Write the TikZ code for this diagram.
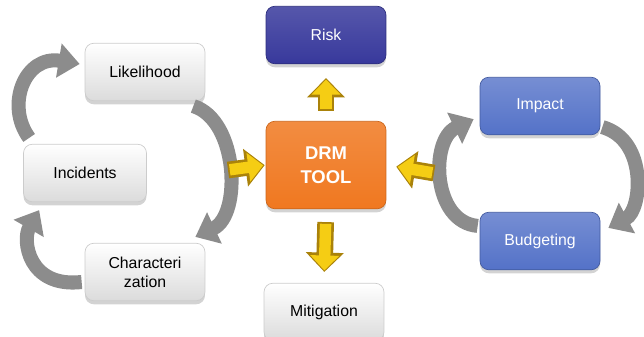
\documentclass[tikz,border=0pt]{standalone}
\usepackage{fontspec}
\setmainfont{Liberation Sans}
\usepackage{tikz}
\usetikzlibrary{positioning,arrows.meta,shadows}
\definecolor{drmorange}{RGB}{240,120,32}
\definecolor{riskblue}{RGB}{56,57,156}
\definecolor{stepblue}{RGB}{84,114,200}
\definecolor{cyclegray}{RGB}{140,140,140}
\definecolor{arrowgold}{RGB}{245,205,20}
\definecolor{golddark}{RGB}{170,130,10}

\tikzset{
  box/.style={rounded corners=5pt, minimum width=2.4cm, minimum height=1.15cm,
    align=center, font=\fontsize{9}{11}\selectfont,
    drop shadow={shadow xshift=0pt, shadow yshift=-2pt, opacity=0.35}},
  graybox/.style={box, draw=gray!40, top color=white, bottom color=gray!28, text=black},
  bluebox/.style={box, draw=stepblue!80!black, top color=stepblue!80!white, bottom color=stepblue, text=white},
  riskbox/.style={box, draw=riskblue!80!black, top color=riskblue!85!white, bottom color=riskblue, text=white},
  toolbox/.style={box, minimum height=1.75cm, draw=drmorange!85!black, top color=drmorange!85!white,
    bottom color=drmorange, text=white, font=\fontsize{10.5}{13.5}\selectfont\bfseries},
  cyclearrow/.style={line width=8pt, cyclegray, -{Triangle[width=19pt,length=12pt]}},
  yback/.style={line width=9.5pt, golddark, -{Triangle[width=21pt,length=11pt]}},
  yfront/.style={line width=6.5pt, arrowgold, -{Triangle[width=16pt,length=8.5pt]}}
}

\begin{document}
\begin{tikzpicture}[x=0.02cm,y=-0.02cm]
\useasboundingbox (0,0) rectangle (644,336);

% Left cycle
\node[graybox] (lik) at (145,72) {Likelihood};
\node[graybox, minimum width=2.46cm] (inc) at (85,173) {Incidents};
\node[graybox] (char) at (145,272) {Characteri\\zation};

% Centre
\node[riskbox] (risk) at (326,35) {Risk};
\node[toolbox] (drm) at (326,165) {DRM\\TOOL};
\node[graybox] (mit) at (324,312) {Mitigation};

% Right cycle
\node[bluebox] (imp) at (540,106) {Impact};
\node[bluebox] (bud) at (540,241) {Budgeting};

\coordinate (lin) at (228,170);
\coordinate (rin) at (434,173);

% Gray cycle arrows
\draw[cyclearrow] ([shift={(6,-6)}]inc.north west) .. controls (5,105) and (25,55) .. ([shift={(-5,-8)}]lik.west);
\draw[cyclearrow] ([shift={(-12,5)}]lik.south east) .. controls (238,120) and (242,215) .. ([shift={(-10,-6)}]char.north east);
\draw[cyclearrow] ([shift={(-3,10)}]char.west) .. controls (28,288) and (22,240) .. ([shift={(16,8)}]inc.south west);
\draw[cyclearrow] ([shift={(2,-8)}]imp.south east) .. controls (648,140) and (642,210) .. ([shift={(8,16)}]bud.north east);
\draw[cyclearrow] ([shift={(-2,14)}]bud.north west) .. controls (432,222) and (430,140) .. ([shift={(-6,-16)}]imp.south west);

% Yellow arrows
\foreach \a/\b/\s/\e in {drm.north/risk.south/0.2cm/0.28cm, drm.south/mit.north/0.26cm/0.22cm,
                         lin/drm.west/0cm/0.02cm, rin/drm.east/0cm/0.2cm} {
  \draw[yback, shorten <=\s, shorten >=\e] (\a) -- (\b);
  \draw[yfront, shorten <=\s+1pt, shorten >=\e+0.03cm] (\a) -- (\b);
}
\end{tikzpicture}
\end{document}
